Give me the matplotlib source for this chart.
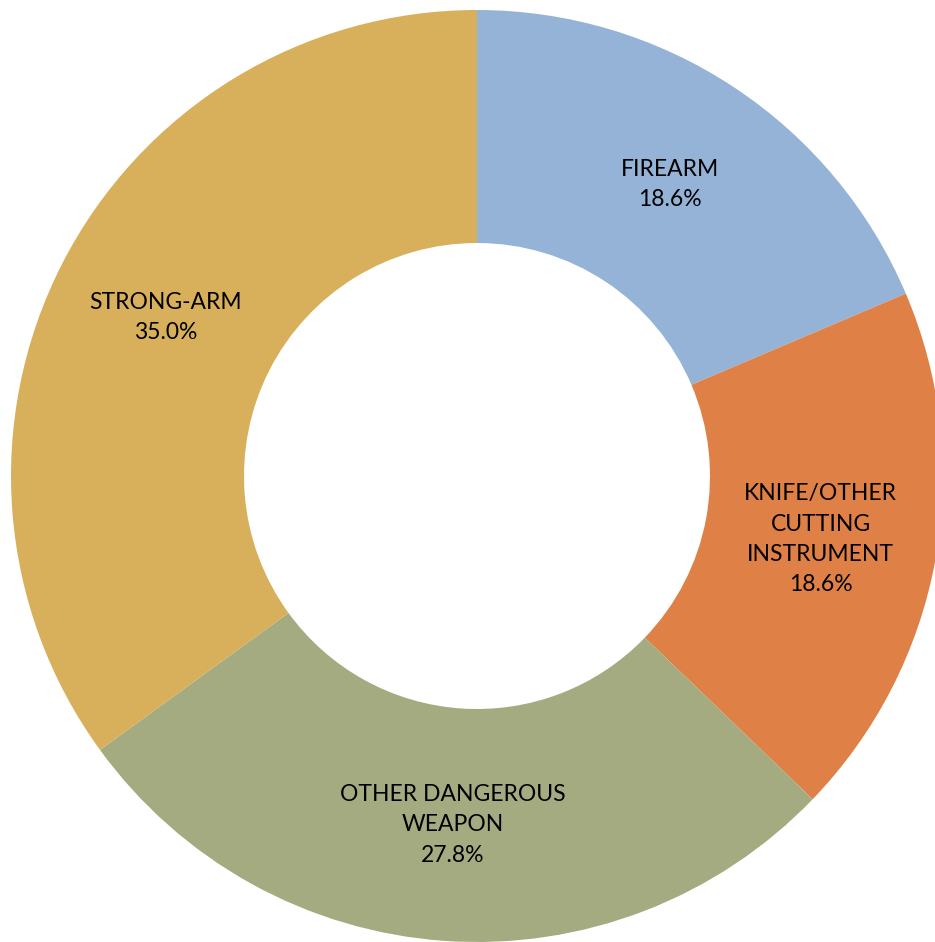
import matplotlib
matplotlib.use("Agg")
from matplotlib import pyplot as plt

categories = ["FIREARM", "KNIFE/OTHER\nCUTTING\nINSTRUMENT", "OTHER DANGEROUS\nWEAPON", "STRONG-ARM"]
shares = [18.6, 18.6, 27.8, 35.0]
colors = ["#95B3D7", "#DF8047", "#A4AB80", "#D8B05C"]

plt.rcParams['font.family'] = ['Lato', 'DejaVu Sans']

fig = plt.figure(figsize=(9.35, 9.42), dpi=100)
# outer radius ~466 px, centre at (477, 476) from top-left
ax = fig.add_axes([11 / 935, 0 / 942, 932 / 935, 932 / 942])

labels = [f"{c}\n{v:.1f}%" for c, v in zip(categories, shares)]
wedges, texts = ax.pie(shares, colors=colors, labels=labels, startangle=90,
                       counterclock=False, radius=1.0, labeldistance=0.75,
                       wedgeprops=dict(width=0.5, linewidth=0),
                       textprops=dict(fontsize=16.5, color="#000000"))
for t in texts:
    t.set_ha("center")
    t.set_va("center")
    t.set_multialignment("center")
    t.set_linespacing(1.55)

ax.set_xlim(-1, 1)
ax.set_ylim(-1, 1)
ax.set_aspect("equal")
ax.axis("off")

fig.savefig("out.png", dpi=100)
